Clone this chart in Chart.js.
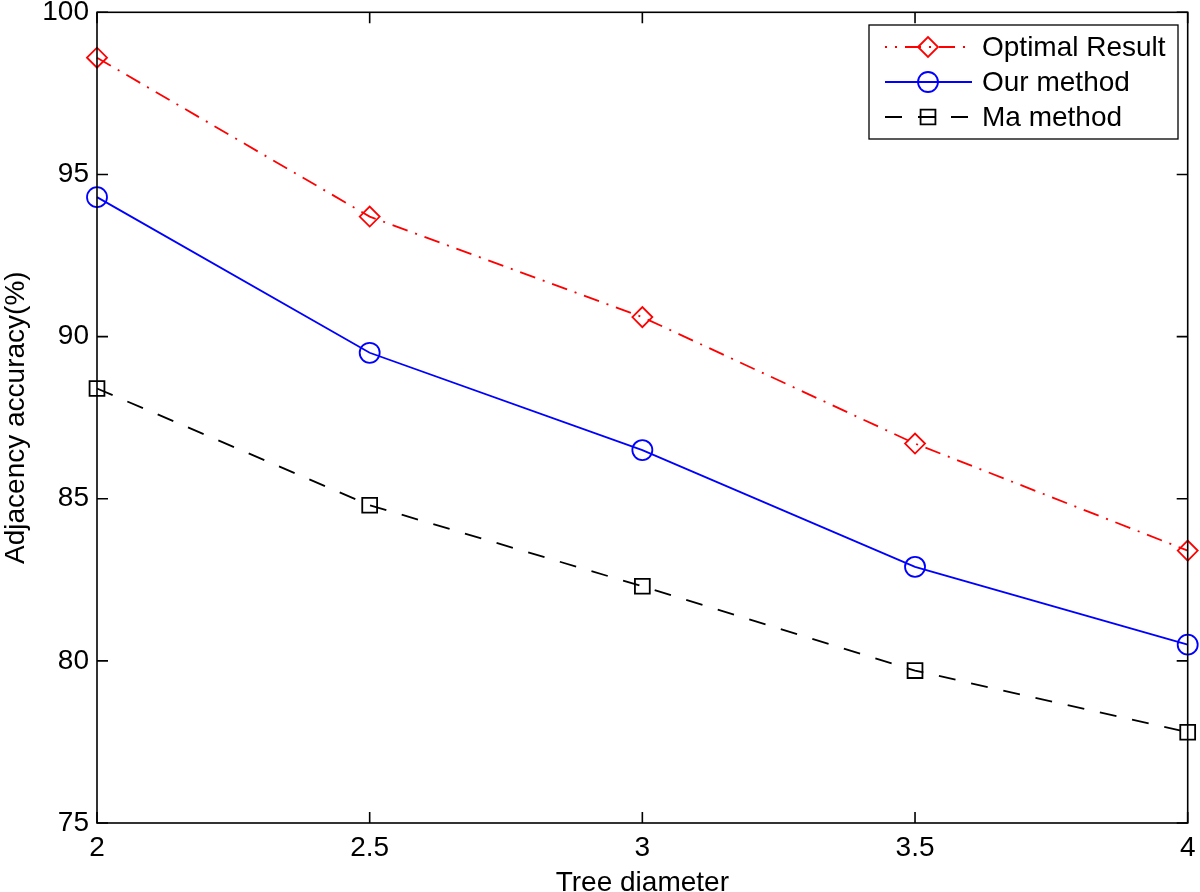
<!DOCTYPE html>
<html>
<head>
<meta charset="utf-8">
<title>Adjacency accuracy vs tree diameter</title>
<script src="https://cdn.jsdelivr.net/npm/chart.js@4.4.1/dist/chart.umd.min.js"></script>
<style>
    html, body { margin: 0; padding: 0; background: #fff; }
    #wrap { width: 1200px; height: 892px; }
</style>
</head>
<body>
<div id="wrap"><canvas id="accChart" width="1200" height="892"></canvas></div>
<script>
// ============================================================
// DATA
// ============================================================
const diameters = [2, 2.5, 3, 3.5, 4];
const optimalResult = [98.6, 93.7, 90.6, 86.7, 83.4];
const ourMethod = [94.3, 89.5, 86.5, 82.9, 80.5];
const maMethod = [88.4, 84.8, 82.3, 79.7, 77.8];

const xTicks = [2, 2.5, 3, 3.5, 4];
const yTicks = [75, 80, 85, 90, 95, 100];

const seriesLabels = ['Optimal Result', 'Our method', 'Ma method'];

const FONT = "'Liberation Sans', Arial, sans-serif";

function toPoints(ys) {
    return diameters.map((x, i) => ({ x: x, y: ys[i] }));
}

// line / marker styles per series
const styles = [
    { color: '#ff0000', dash: [16, 8, 2, 8], pointStyle: 'rectRot', radius: 10 },
    { color: '#0000ff', dash: [], pointStyle: 'circle', radius: 10 },
    { color: '#000000', dash: [17, 16], pointStyle: 'rect', radius: 10.5 }
];

// ============================================================
// FRAME + INWARD TICKS + LEGEND (matlab look)
// ============================================================
const matlabFrame = {
    id: 'matlabFrame',
    afterDatasetsDraw(chart) {
        const { ctx, chartArea: a, scales } = chart;
        const tl = 11;
        ctx.save();
        ctx.strokeStyle = '#000';
        ctx.lineWidth = 1.6;
        ctx.setLineDash([]);
        ctx.strokeRect(a.left, a.top, a.right - a.left, a.bottom - a.top);

        ctx.beginPath();
        xTicks.forEach(v => {
            const px = scales.x.getPixelForValue(v);
            ctx.moveTo(px, a.bottom); ctx.lineTo(px, a.bottom - tl);
            ctx.moveTo(px, a.top); ctx.lineTo(px, a.top + tl);
        });
        yTicks.forEach(v => {
            const py = scales.y.getPixelForValue(v);
            ctx.moveTo(a.left, py); ctx.lineTo(a.left + tl, py);
            ctx.moveTo(a.right, py); ctx.lineTo(a.right - tl, py);
        });
        ctx.stroke();

        // legend box
        const lx = 869, ly = 25, lw = 309, lh = 114;
        ctx.fillStyle = '#fff';
        ctx.fillRect(lx, ly, lw, lh);
        ctx.lineWidth = 1.3;
        ctx.strokeRect(lx, ly, lw, lh);

        const rowY = [47, 82, 117];
        seriesLabels.forEach((label, i) => {
            const s = styles[i];
            const y = rowY[i];
            ctx.strokeStyle = s.color;
            ctx.lineWidth = 1.8;
            ctx.setLineDash(s.dash);
            ctx.lineDashOffset = i === 0 ? 14 : 0;
            ctx.beginPath();
            ctx.moveTo(885, y);
            ctx.lineTo(972, y);
            ctx.stroke();
            ctx.setLineDash([]);
            ctx.fillStyle = 'rgba(0,0,0,0)';
            Chart.helpers.drawPoint(ctx, {
                pointStyle: s.pointStyle,
                radius: s.radius,
                rotation: 0,
                borderWidth: 1.8
            }, 928, y);

            ctx.fillStyle = '#000';
            ctx.font = '28px ' + FONT;
            ctx.textAlign = 'left';
            ctx.textBaseline = 'middle';
            ctx.fillText(label, 982, y + 1);
        });
        ctx.restore();
    }
};

// ============================================================
// CHART
// ============================================================
function fixScale(size, key) {
    return function (scale) {
        scale[key] = size;
        scale.paddingTop = 0;
        scale.paddingBottom = 0;
        scale.paddingLeft = 0;
        scale.paddingRight = 0;
    };
}

const datasets = [optimalResult, ourMethod, maMethod].map((vals, i) => ({
    label: seriesLabels[i],
    data: toPoints(vals),
    borderColor: styles[i].color,
    backgroundColor: 'rgba(0,0,0,0)',
    borderWidth: 1.8,
    borderDash: styles[i].dash,
    pointStyle: styles[i].pointStyle,
    pointRadius: styles[i].radius,
    pointBorderWidth: 1.8,
    pointBorderColor: styles[i].color,
    pointBackgroundColor: 'rgba(0,0,0,0)',
    tension: 0,
    fill: false,
    clip: false
}));

new Chart(document.getElementById('accChart').getContext('2d'), {
    type: 'line',
    data: { datasets: datasets },
    options: {
        responsive: false,
        animation: false,
        layout: { padding: { left: 0, right: 9, top: 11, bottom: 0 } },
        plugins: {
            legend: { display: false },
            tooltip: { enabled: false }
        },
        scales: {
            x: {
                type: 'linear',
                min: 2,
                max: 4,
                afterBuildTicks: s => { s.ticks = xTicks.map(v => ({ value: v })); },
                afterFit: fixScale(69, 'height'),
                grid: { display: false, drawTicks: false },
                border: { display: false },
                ticks: {
                    color: '#000',
                    padding: 8,
                    font: { family: FONT, size: 28 },
                    maxRotation: 0,
                    callback: v => String(v)
                },
                title: {
                    display: true,
                    text: 'Tree diameter',
                    color: '#000',
                    font: { family: FONT, size: 28, lineHeight: 1 },
                    padding: { top: 0, bottom: -5 }
                }
            },
            y: {
                min: 75,
                max: 100,
                afterBuildTicks: s => { s.ticks = yTicks.map(v => ({ value: v })); },
                afterFit: fixScale(97, 'width'),
                grid: { display: false, drawTicks: false },
                border: { display: false },
                ticks: {
                    color: '#000',
                    padding: 8,
                    font: { family: FONT, size: 28 },
                    callback: v => String(v)
                },
                title: {
                    display: true,
                    text: 'Adjacency accuracy(%)',
                    color: '#000',
                    font: { family: FONT, size: 28, lineHeight: 1 },
                    padding: { top: 2, bottom: 0 }
                }
            }
        }
    },
    plugins: [matlabFrame]
});
</script>
</body>
</html>
